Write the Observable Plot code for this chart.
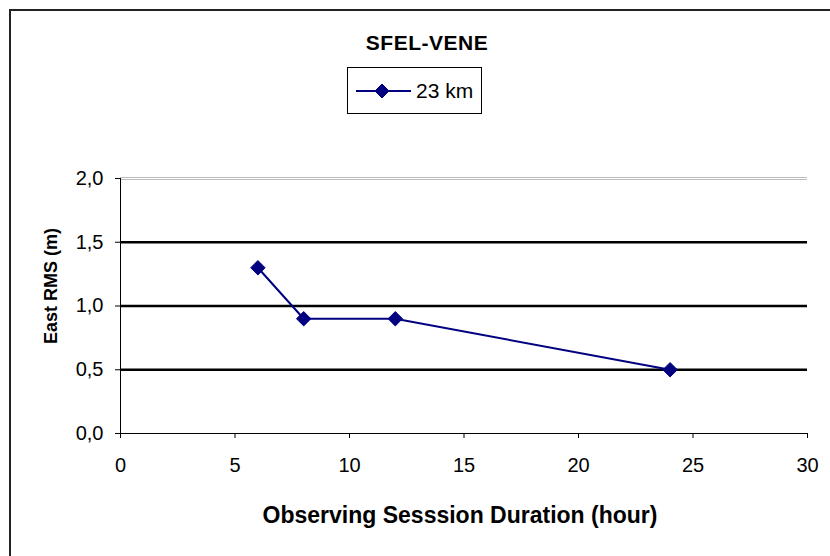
<!DOCTYPE html>
<html>
<head>
<meta charset="utf-8">
<script src="https://cdn.jsdelivr.net/npm/d3@7"></script>
<script src="https://cdn.jsdelivr.net/npm/@observablehq/plot@0.6"></script>
<style>
  html, body { margin: 0; padding: 0; background: #fff; }
  #chart { position: relative; width: 830px; height: 556px; overflow: hidden;
           font-family: "Liberation Sans", Arial, sans-serif; color: #000; }
  #frame { position: absolute; left: 9px; top: 9px; width: 900px; height: 700px;
           border-top: 2px solid #222; border-left: 2px solid #222; box-sizing: border-box; }
  #title { position: absolute; left: 277px; top: 31px; width: 300px; text-align: center;
           font-weight: bold; font-size: 21px; letter-spacing: 0.5px; }
  #legend { position: absolute; left: 347px; top: 67px; width: 135px; height: 47px;
            border: 1px solid #000; box-sizing: border-box; background: #fff; }
  #legend svg { position: absolute; left: 0; top: 0; }
  #legend span { position: absolute; left: 68px; top: 11px; font-size: 21px; }
  #plot { position: absolute; left: 0; top: 0; }
</style>
</head>
<body>
<div id="chart">
  <div id="plot"></div>
  <div id="frame"></div>
  <div id="title"></div>
  <div id="legend"></div>
</div>
<script>
// Session length (hours) and east-component RMS (m) for the 23 km SFEL-VENE baseline
const hours = [6, 8, 12, 24];
const eastRms = [1.3, 0.9, 0.9, 0.5];
const seriesName = "23 km";
const chartTitle = "SFEL-VENE";
const xTicks = [0, 5, 10, 15, 20, 25, 30];
const yTicks = [0, 0.5, 1.0, 1.5, 2.0];
const gridLevels = [0.5, 1.0, 1.5];
const xTitle = "Observing Sesssion Duration (hour)";
const yTitle = "East RMS (m)";

const lineColor = "#000080";
const rows = hours.map((h, i) => ({hours: h, rms: eastRms[i]}));
const commaDecimal = d => d3.format(".1f")(d).replace(".", ",");

const chart = Plot.plot({
  width: 830,
  height: 556,
  marginLeft: 120,
  marginRight: 23,
  marginTop: 178,
  marginBottom: 123,
  style: {fontFamily: "'Liberation Sans', Arial, sans-serif", fontSize: "20px", color: "#000", background: "transparent"},
  x: {domain: [0, 30]},
  y: {domain: [0, 2]},
  marks: [
    // top gridline at 2,0 is drawn as a pale double rule
    Plot.ruleY([2], {stroke: "#bcbcbc", strokeWidth: 1, dy: -1}),
    Plot.ruleY([2], {stroke: "#bcbcbc", strokeWidth: 1, dy: 1}),
    Plot.ruleY(gridLevels, {stroke: "#000", strokeWidth: 2.5}),
    Plot.ruleX([0], {stroke: "#000", strokeWidth: 1}),
    Plot.ruleY([0], {stroke: "#000", strokeWidth: 1}),
    Plot.axisX({ticks: xTicks, tickSize: 5, tickPadding: 19, label: null, stroke: "#000"}),
    Plot.axisY({ticks: yTicks, tickFormat: commaDecimal, tickSize: 5, tickPadding: 12, label: null, stroke: "#000"}),
    Plot.text([xTitle], {text: d => d, frameAnchor: "bottom", dx: -4, dy: 89, fontWeight: "bold", fontSize: 23}),
    Plot.text([yTitle], {text: d => d, frameAnchor: "left", textAnchor: "middle", dx: -69, dy: -20, rotate: -90, fontWeight: "bold", fontSize: 18}),
    Plot.line(rows, {x: "hours", y: "rms", stroke: lineColor, strokeWidth: 2}),
    Plot.dot(rows, {x: "hours", y: "rms", symbol: "diamond2", r: 6.5, fill: lineColor, stroke: lineColor, strokeWidth: 1})
  ]
});
document.getElementById("plot").appendChild(chart);

document.getElementById("title").textContent = chartTitle;

// legend: line sample with a diamond marker, then the series name
const legend = document.getElementById("legend");
const ls = d3.create("svg").attr("width", 70).attr("height", 45);
ls.append("line").attr("x1", 8).attr("x2", 63).attr("y1", 23).attr("y2", 23)
  .attr("stroke", lineColor).attr("stroke-width", 2);
ls.append("path").attr("transform", "translate(34,23)")
  .attr("d", d3.symbol(d3.symbolDiamond2, 125)())
  .attr("fill", lineColor).attr("stroke", lineColor);
legend.appendChild(ls.node());
const lt = document.createElement("span");
lt.textContent = seriesName;
legend.appendChild(lt);
</script>
</body>
</html>
